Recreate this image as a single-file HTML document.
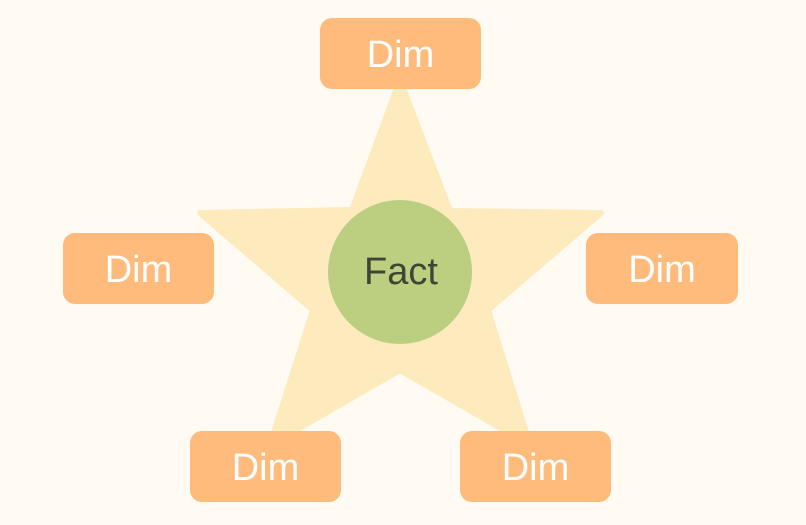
<!DOCTYPE html>
<html><head><style>
body{margin:0;width:806px;height:525px;background:#fffbf2;position:relative;overflow:hidden;font-family:"Liberation Sans",sans-serif}
.b{position:absolute;background:#ffbb7b;border-radius:12px;color:#fff;font-size:38px;display:flex;align-items:center;justify-content:center;padding-top:3px;box-sizing:border-box}
</style></head><body>
<svg width="806" height="525" style="position:absolute;left:0;top:0">
<polygon points="400,80 352,210 200,213 313,310 270,445 400,370 530,445 488,310 601,213 450,211" fill="#fdebbd" stroke="#fdebbd" stroke-width="6" stroke-linejoin="round"/>
<circle cx="400" cy="272" r="72" fill="#bccf81"/>
<text x="401" y="284" font-size="38" fill="#3f4535" text-anchor="middle" font-family="Liberation Sans, sans-serif">Fact</text>
</svg>
<div class="b" style="left:320px;top:18px;width:161px;height:71px">Dim</div>
<div class="b" style="left:63px;top:233px;width:151px;height:71px">Dim</div>
<div class="b" style="left:586px;top:233px;width:152px;height:71px">Dim</div>
<div class="b" style="left:190px;top:431px;width:151px;height:71px">Dim</div>
<div class="b" style="left:460px;top:431px;width:151px;height:71px">Dim</div>
</body></html>
